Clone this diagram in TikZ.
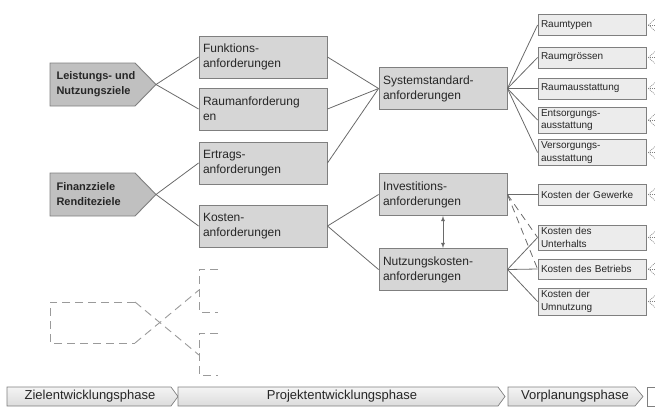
\documentclass[tikz,border=0pt]{standalone}
\usepackage{fontspec}
\setmainfont{Liberation Sans}
\usepackage{tikz}
\definecolor{cc0c0c0}{RGB}{192,192,192}
\definecolor{cd6d6d6}{RGB}{214,214,214}
\definecolor{cececec}{RGB}{236,236,236}
\definecolor{c7f7f7f}{RGB}{127,127,127}
\definecolor{c6a6a6a}{RGB}{106,106,106}
\definecolor{c9a9a9a}{RGB}{154,154,154}
\definecolor{c262626}{RGB}{38,38,38}
\definecolor{cf4f4f4}{RGB}{244,244,244}
\definecolor{cdcdcdc}{RGB}{220,220,220}

\tikzset{
  lvlbox/.style={draw=c7f7f7f,fill=cd6d6d6,line width=0.9pt,text=c262626,
    minimum width=128,minimum height=42,text width=120,inner xsep=4,
    inner ysep=2,align=left,font=\fontsize{12}{15}\selectfont},
  sidebox/.style={draw=c7f7f7f,fill=cececec,line width=0.9pt,text=c262626,
    minimum width=108,minimum height=21,text width=102,inner xsep=3,
    inner ysep=1,align=left,font=\fontsize{10}{12.5}\selectfont},
  link/.style={draw=c6a6a6a,line width=0.8pt},
  ghost/.style={draw=c9a9a9a,line width=0.9pt,dash pattern=on 8pt off 5pt},
  fan/.style={draw=c7f7f7f,line width=0.6pt,dash pattern=on 1pt off 1pt},
  phase/.style={draw=c7f7f7f,line width=0.7pt,top color=cf4f4f4,bottom color=cdcdcdc}
}

\begin{document}
\begin{tikzpicture}[y=1pt,x=1pt,yscale=-1]
  \useasboundingbox (0,0) rectangle (655,408);

  % goal shapes
  \path[draw=c7f7f7f,fill=cc0c0c0,line width=0.9pt]
    (50,63) -- (135,63) -- (156,84.5) -- (135,106) -- (50,106) -- cycle;
  \path[draw=c7f7f7f,fill=cc0c0c0,line width=0.9pt]
    (50,173) -- (135,173) -- (156,194.5) -- (135,216) -- (50,216) -- cycle;
  \coordinate (leistungtip) at (156,84.5);
  \coordinate (finanztip) at (156,194.5);
  \path (53,84.5) node[anchor=west,align=left,text=c262626,
    font=\fontsize{11}{15}\selectfont\bfseries] (leistung) {Leistungs- und\\Nutzungsziele};
  \path (53,194.5) node[anchor=west,align=left,text=c262626,
    font=\fontsize{11}{15}\selectfont\bfseries] (finanz) {Finanzziele\\Renditeziele};

  % requirement boxes
  \path (263,57) node[lvlbox] (funktion) {Funktions-\\anforderungen};
  \path (263,109) node[lvlbox] (raum) {Raumanforderung\\en};
  \path (263,163) node[lvlbox] (ertrag) {Ertrags-\\anforderungen};
  \path (263,226) node[lvlbox] (kosten) {Kosten-\\anforderungen};
  \path (443,88.5) node[lvlbox] (system) {Systemstandard-\\anforderungen};
  \path (443,194.5) node[lvlbox] (invest) {Investitions-\\anforderungen};
  \path (443,269.5) node[lvlbox] (nutzung) {Nutzungskosten-\\anforderungen};

  % detail boxes
  \path (592,25) node[sidebox] (raumtyp) {Raumtypen};
  \path (592,57.5) node[sidebox] (raumgr) {Raumgrössen};
  \path (592,88.5) node[sidebox] (raumaus) {Raumausstattung};
  \path (592,120) node[sidebox,minimum height=26] (entsorg) {Entsorgungs-\\ausstattung};
  \path (592,152.5) node[sidebox,minimum height=26] (versorg) {Versorgungs-\\ausstattung};
  \path (592,194.5) node[sidebox] (gewerke) {Kosten der Gewerke};
  \path (592,237.5) node[sidebox,minimum height=25] (unterhalt) {Kosten des\\Unterhalts};
  \path (592,269) node[sidebox,minimum height=20] (betrieb) {Kosten des Betriebs};
  \path (592,301.5) node[sidebox,minimum height=27] (umnutz) {Kosten der\\Umnutzung};

  % connectors
  \path[link] (leistungtip) -- (funktion.west);
  \path[link] (leistungtip) -- (raum.west);
  \path[link] (finanztip) -- (ertrag.west);
  \path[link] (finanztip) -- (kosten.west);
  \path[link] (funktion.east) -- (system.west);
  \path[link] (raum.east) -- (system.west);
  \path[link] (ertrag.east) -- (system.west);
  \path[link] (kosten.east) -- (invest.west);
  \path[link] (kosten.east) -- (nutzung.west);
  \foreach \n in {raumtyp,raumgr,raumaus,entsorg,versorg}
    \path[link] (system.east) -- (\n.west);
  \path[link] (invest.east) -- (gewerke.west);
  \path[link,dash pattern=on 7pt off 5pt] (invest.east) -- (unterhalt.west);
  \path[link,dash pattern=on 7pt off 5pt] (invest.east) -- (betrieb.west);
  \foreach \n in {unterhalt,betrieb,umnutz}
    \path[link] (nutzung.east) -- (\n.west);
  \path[link,<->,>=latex] (invest.south) -- (nutzung.north);

  % dotted fans on the right
  \foreach \n in {raumtyp,raumgr,raumaus,entsorg,versorg,gewerke,unterhalt,betrieb,umnutz}{
    \path[fan] ([xshift=2pt]\n.east) -- ++(10,-9);
    \path[fan] ([xshift=2pt]\n.east) -- ++(10,0);
    \path[fan] ([xshift=2pt]\n.east) -- ++(10,9);
  }

  % placeholder
  \path[ghost] (135,302) -- (50,302) -- (50,343) -- (135,343);
  \path[ghost] (135,302) -- (199,355);
  \path[ghost] (135,343) -- (199,290);
  \path[ghost] (218,269) -- (199,269) -- (199,312) -- (218,312);
  \path[ghost] (218,333) -- (199,333) -- (199,375) -- (218,375);

  % phases
  \path[phase] (7,387) -- (171,387) -- (178,396.5) -- (171,406) -- (7,406) -- cycle;
  \path[phase] (178,387) -- (498,387) -- (505,396.5) -- (498,406) -- (178,406) -- cycle;
  \path[phase] (508,387) -- (635,387) -- (643,396.5) -- (635,406) -- (508,406) -- cycle;
  \path[draw=c7f7f7f,line width=0.7pt] (655,387) -- (647,387) -- (647,406) -- (655,406);
  \path (90,396.5) node[text=c262626,font=\fontsize{13}{15}\selectfont] (ziel) {Zielentwicklungsphase};
  \path (342,396.5) node[text=c262626,font=\fontsize{13}{15}\selectfont] (projekt) {Projektentwicklungsphase};
  \path (575,396.5) node[text=c262626,font=\fontsize{13}{15}\selectfont] (vorplan) {Vorplanungsphase};

\end{tikzpicture}
\end{document}
